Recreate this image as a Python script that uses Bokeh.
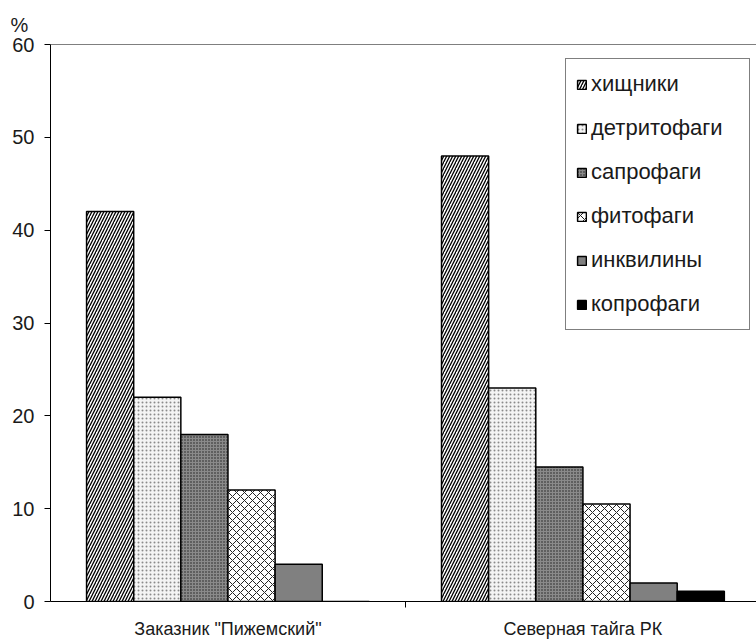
from bokeh.plotting import figure
from bokeh.models import (Range1d, FixedTicker, Legend, LegendItem, Title, Span,
                          ColumnDataSource)
from bokeh.embed import file_html
from bokeh.resources import INLINE

# ---- data ----
categories = ['Заказник "Пижемский"', "Северная тайга РК"]
series = ["хищники", "детритофаги", "сапрофаги", "фитофаги", "инквилины", "копрофаги"]
khishchniki = [42, 48]
detritofagi = [22, 23]
saprofagi = [18, 14.5]
fitofagi = [12, 10.5]
inkviliny = [4, 2]
koprofagi = [0, 1.1]
values = [khishchniki, detritofagi, saprofagi, fitofagi, inkviliny, koprofagi]
y_ticks = [0, 10, 20, 30, 40, 50, 60]
y_unit = "%"

# ---- styles ----
styles = [
    dict(fill_color="white", hatch_pattern="/", hatch_color="black", hatch_scale=6, hatch_weight=1.3),
    dict(fill_color="#f4f4f4", hatch_pattern=".", hatch_color="#8a8a8a", hatch_scale=4, hatch_weight=1),
    dict(fill_color="#8a8a8a", hatch_pattern=".", hatch_color="#1e1e1e", hatch_scale=3, hatch_weight=1),
    dict(fill_color="white", hatch_pattern="x", hatch_color="#222222", hatch_scale=8, hatch_weight=1),
    dict(fill_color="#808080"),
    dict(fill_color="black"),
]

FONT = "Liberation Sans"
n_ser = len(series)
bar_w = 0.1328

p = figure(width=756, height=641, output_backend="svg", toolbar_location=None,
           x_range=Range1d(0, 1.989), y_range=Range1d(0, 60),
           min_border_left=50, min_border_right=0, min_border_top=44, min_border_bottom=40)
p.outline_line_color = None
p.grid.visible = False
p.background_fill_color = "white"
p.border_fill_color = "white"

items = []
for i, (name, vals, st) in enumerate(zip(series, values, styles)):
    xs = [g + 0.5 + (i - (n_ser - 1) / 2) * bar_w for g in range(len(categories))]
    src = ColumnDataSource(dict(x=xs, top=vals))
    r = p.vbar(x="x", top="top", bottom=0, width=bar_w, source=src,
               line_color="black", line_width=1.5, **st)
    items.append(LegendItem(label=name, renderers=[r]))

legend = Legend(items=items, location=(515, 271), padding=10, margin=0,
                spacing=14, label_height=30, label_width=148,
                glyph_width=11, glyph_height=11, label_standoff=4,
                label_text_font=FONT, label_text_font_size="22px", label_text_color="#1a1a1a",
                border_line_color="black", border_line_width=1, background_fill_color="white",
                background_fill_alpha=1)
p.add_layout(legend)

# y axis
p.yaxis.ticker = FixedTicker(ticks=y_ticks)
p.yaxis.major_tick_out = 6
p.yaxis.major_tick_in = 0
p.yaxis.minor_tick_line_color = None
p.yaxis.major_label_standoff = 10
p.yaxis.major_label_text_font = FONT
p.yaxis.major_label_text_font_size = "20px"
p.yaxis.major_label_text_color = "#1a1a1a"
p.yaxis.axis_line_color = "black"
p.yaxis.major_tick_line_color = "black"

# x axis: labels at category centres, dividing ticks between them
p.xaxis.ticker = FixedTicker(ticks=[g + 0.5 for g in range(len(categories))],
                             minor_ticks=[float(g) for g in range(1, len(categories))])
p.xaxis.major_label_overrides = {g + 0.5: c for g, c in enumerate(categories)}
p.xaxis.major_tick_out = 0
p.xaxis.major_tick_in = 0
p.xaxis.minor_tick_out = 6
p.xaxis.minor_tick_in = 0
p.xaxis.minor_tick_line_color = "black"
p.xaxis.major_label_standoff = 11
p.xaxis.major_label_text_font = FONT
p.xaxis.major_label_text_font_size = "18px"
p.xaxis.major_label_text_color = "#1a1a1a"
p.xaxis.axis_line_color = "black"

# top frame line
p.add_layout(Span(location=60, dimension="width", line_color="black", line_width=1))

# "%" unit label above the y axis
p.add_layout(Title(text=y_unit, align="left", offset=-40, standoff=17,
                   text_font=FONT, text_font_size="20px", text_font_style="normal",
                   text_color="#1a1a1a"), "above")

open("out.html", "w").write(file_html(p, INLINE))
